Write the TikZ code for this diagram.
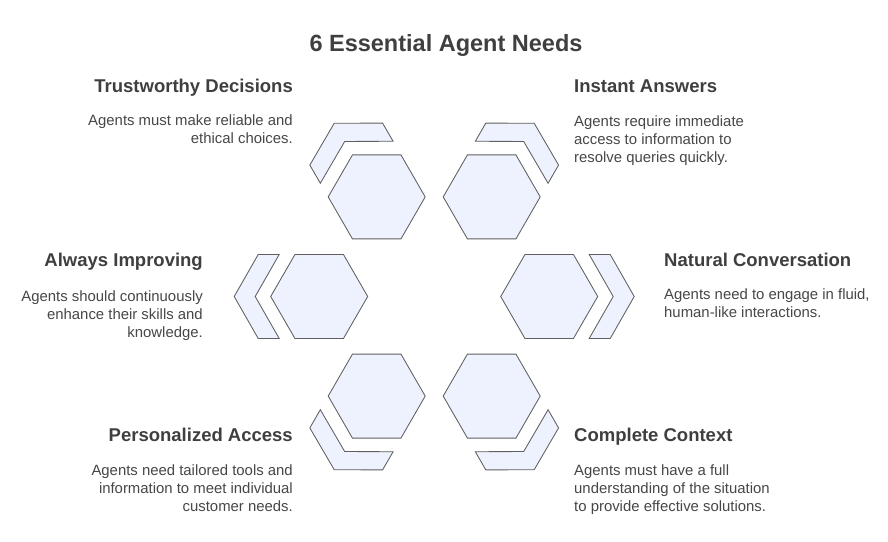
\documentclass[tikz,border=0pt]{standalone}
\usepackage{fontspec}
\setmainfont{Liberation Sans}
\usetikzlibrary{shapes.geometric,calc}
\definecolor{hexfill}{HTML}{EDF2FE}
\definecolor{hexline}{HTML}{5F5F5F}
\definecolor{headc}{HTML}{3F3F3F}
\definecolor{bodyc}{HTML}{474747}
\begin{document}
\begin{tikzpicture}[x=1pt,y=1pt,
  hexa/.style={regular polygon, regular polygon sides=6, minimum size=97pt,
    inner sep=0pt, outer sep=0pt, draw=hexline, fill=hexfill, line width=0.85pt},
  chev/.style={draw=hexline, fill=hexfill, line width=0.85pt, line join=miter},
  heading/.style={font=\bfseries\fontsize{18.5}{22}\selectfont, text=headc, inner sep=0pt},
  body/.style={font=\fontsize{14.9}{18}\selectfont, text=bodyc, inner sep=0pt},
  title/.style={font=\bfseries\fontsize{23.5}{28}\selectfont, text=headc, inner sep=0pt}]
\fill[white] (0,0) rectangle (888,541);
\useasboundingbox (0,0) rectangle (888,541);
\coordinate (c) at (434.2,244.5);
% ring of hexagons, each with a chevron pointing away from the centre
\foreach \a/\n in {120/tl,60/tr,0/r,-60/br,-120/bl,180/l}{
  \node[hexa] (hex-\n) at ($(c)+(\a:115)$) {};
  \begin{scope}[shift={(hex-\n.center)}, rotate=\a]
    \draw[chev] (40,42) -- (61,42) -- (85,0) -- (61,-42) -- (40,-42) -- (64,0) -- cycle;
  \end{scope}
}
\node[title, anchor=base] (title) at (446,489.3) {6 Essential Agent Needs};

% body blocks are placed by the baseline of their last line
\node[heading, anchor=base east] (h-tl) at (293,448) {Trustworthy Decisions};
\node[body, anchor=base east, align=right] (b-tl) at (293,397) {Agents must make reliable and\\ethical choices.};

\node[heading, anchor=base west] (h-tr) at (574,448) {Instant Answers};
\node[body, anchor=base west, align=left] (b-tr) at (574,378) {Agents require immediate\\access to information to\\resolve queries quickly.};

\node[heading, anchor=base east] (h-l) at (203,274) {Always Improving};
\node[body, anchor=base east, align=right] (b-l) at (203,203) {Agents should continuously\\enhance their skills and\\knowledge.};

\node[heading, anchor=base west] (h-r) at (664,274) {Natural Conversation};
\node[body, anchor=base west, align=left] (b-r) at (664,223) {Agents need to engage in fluid,\\human-like interactions.};

\node[heading, anchor=base east] (h-bl) at (293,100) {Personalized Access};
\node[body, anchor=base east, align=right] (b-bl) at (293,30) {Agents need tailored tools and\\information to meet individual\\customer needs.};

\node[heading, anchor=base west] (h-br) at (574,100) {Complete Context};
\node[body, anchor=base west, align=left] (b-br) at (574,30) {Agents must have a full\\understanding of the situation\\to provide effective solutions.};
\end{tikzpicture}
\end{document}
